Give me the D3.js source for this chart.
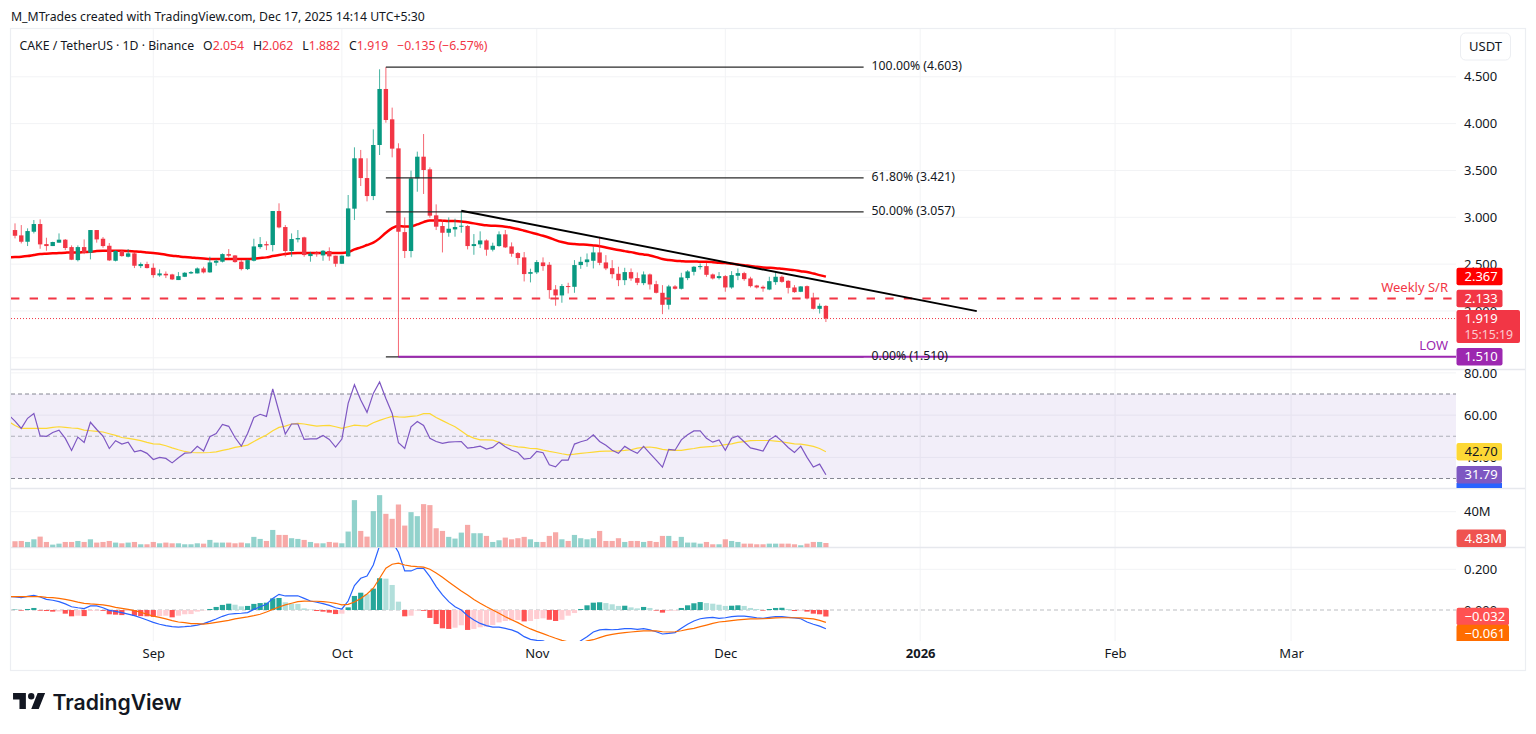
<!DOCTYPE html>
<html>
<head>
<meta charset="utf-8">
<title>CAKE / TetherUS</title>
<script src="https://cdn.jsdelivr.net/npm/d3@7"></script>
<style>
  html, body { margin: 0; padding: 0; background: #fff; overflow: hidden; }
  text { font-family: "Noto Sans", sans-serif; font-size: 13px; fill: #131722; }
  .small { font-size: 12.25px; }
  .axis text { fill: #131722; font-size: 13px; }
  .axis .domain, .axis line { display: none; }
</style>
</head>
<body>
<div id="chart"></div>
<script>
// daily candles, first one is 10 Aug 2025
var opens = [
  2.864,2.807,2.739,2.846,2.928,2.714,2.693,2.729,2.761,2.682,
  2.543,2.682,2.622,2.864,2.771,2.696,2.536,2.640,2.579,2.615,
  2.479,2.501,2.461,2.380,2.397,2.390,2.330,2.365,2.401,2.401,
  2.454,2.412,2.515,2.526,2.607,2.593,2.526,2.447,2.536,2.682,
  2.714,2.704,3.067,2.896,2.640,2.764,2.786,2.586,2.622,2.593,
  2.640,2.590,2.504,2.583,3.092,3.630,3.419,3.227,3.772,4.370,
  4.046,3.736,2.842,2.640,3.416,3.647,3.512,3.021,2.907,2.835,
  2.871,2.900,2.907,2.693,2.711,2.753,2.654,2.693,2.818,2.689,
  2.618,2.572,2.397,2.412,2.518,2.493,2.230,2.166,2.266,2.258,
  2.490,2.521,2.536,2.625,2.518,2.457,2.397,2.329,2.415,2.351,
  2.297,2.390,2.286,2.194,2.066,2.262,2.237,2.351,2.418,2.468,
  2.479,2.390,2.351,2.372,2.251,2.376,2.404,2.347,2.272,2.258,
  2.229,2.308,2.365,2.322,2.251,2.205,2.265,2.133,2.023,2.054
];
var highs = [
  2.935,2.917,2.882,2.971,2.978,2.782,2.739,2.828,2.768,2.700,
  2.700,2.764,2.864,2.864,2.789,2.725,2.650,2.650,2.661,2.625,
  2.518,2.526,2.508,2.444,2.422,2.397,2.415,2.415,2.426,2.465,
  2.472,2.579,2.554,2.615,2.661,2.597,2.543,2.551,2.771,2.789,
  2.743,3.067,3.149,2.917,2.828,2.864,2.793,2.632,2.640,2.650,
  2.679,2.590,2.593,3.238,3.747,3.719,3.630,3.939,4.580,4.603,
  4.171,3.790,2.999,3.498,3.701,3.889,3.533,3.138,2.971,2.999,
  2.985,3.070,2.917,2.821,2.850,2.764,2.729,2.850,2.864,2.732,
  2.629,2.629,2.451,2.543,2.572,2.522,2.276,2.287,2.301,2.543,
  2.578,2.614,2.685,2.792,2.596,2.543,2.472,2.461,2.454,2.411,
  2.422,2.400,2.322,2.276,2.279,2.276,2.408,2.436,2.479,2.507,
  2.514,2.400,2.415,2.383,2.425,2.454,2.418,2.365,2.279,2.272,
  2.365,2.415,2.379,2.329,2.276,2.265,2.272,2.194,2.080,2.062
];
var lows = [
  2.775,2.721,2.693,2.828,2.664,2.643,2.693,2.729,2.650,2.543,
  2.529,2.607,2.551,2.729,2.675,2.533,2.529,2.579,2.572,2.458,
  2.458,2.454,2.355,2.365,2.351,2.330,2.330,2.362,2.394,2.401,
  2.401,2.408,2.483,2.518,2.572,2.515,2.433,2.437,2.529,2.664,
  2.650,2.636,2.882,2.579,2.579,2.732,2.579,2.526,2.579,2.536,
  2.536,2.472,2.501,2.579,2.971,3.334,3.170,3.184,3.665,4.010,
  3.640,1.510,2.565,2.572,3.273,3.249,2.996,2.864,2.625,2.793,
  2.793,2.835,2.657,2.600,2.672,2.590,2.636,2.686,2.672,2.579,
  2.493,2.315,2.305,2.394,2.429,2.130,2.056,2.088,2.187,2.194,
  2.450,2.472,2.454,2.489,2.436,2.347,2.265,2.276,2.322,2.276,
  2.276,2.229,2.187,1.966,2.016,2.229,2.229,2.329,2.379,2.443,
  2.365,2.336,2.336,2.205,2.237,2.329,2.322,2.251,2.240,2.205,
  2.222,2.279,2.301,2.187,2.194,2.201,2.123,2.016,1.973,1.882
];
var closes = [
  2.803,2.739,2.853,2.928,2.711,2.693,2.736,2.761,2.672,2.547,
  2.682,2.622,2.864,2.764,2.693,2.540,2.640,2.586,2.615,2.483,
  2.501,2.458,2.383,2.401,2.380,2.337,2.372,2.408,2.415,2.454,
  2.412,2.518,2.536,2.607,2.590,2.522,2.447,2.543,2.689,2.714,
  2.700,3.067,2.892,2.640,2.768,2.778,2.597,2.611,2.607,2.643,
  2.583,2.504,2.590,3.095,3.630,3.419,3.227,3.772,4.370,4.039,
  3.733,2.846,2.640,3.416,3.647,3.505,3.017,2.900,2.835,2.878,
  2.896,2.910,2.693,2.714,2.753,2.654,2.696,2.818,2.679,2.611,
  2.565,2.394,2.415,2.522,2.479,2.223,2.166,2.266,2.258,2.490,
  2.525,2.550,2.625,2.514,2.454,2.393,2.329,2.415,2.347,2.301,
  2.390,2.283,2.194,2.066,2.262,2.237,2.358,2.422,2.472,2.479,
  2.386,2.347,2.372,2.251,2.383,2.404,2.340,2.265,2.251,2.240,
  2.318,2.365,2.311,2.247,2.201,2.262,2.133,2.023,2.055,1.919
];
var volumes = [
  6.8,7.1,6.0,9.0,12.0,6.0,3.0,4.1,6.0,6.0,
  7.1,6.0,9.0,5.3,6.0,7.1,5.3,4.5,5.3,6.0,
  3.4,3.4,6.0,4.5,5.3,4.5,4.5,3.4,3.4,4.5,
  4.1,8.3,5.3,5.3,5.3,4.5,5.3,4.5,11.7,9.4,
  7.1,19.5,13.9,13.9,10.2,9.4,8.3,6.0,4.5,4.5,
  6.0,5.3,4.5,17.7,53.0,18.4,12.0,40.6,58.6,37.6,
  32.0,48.1,24.4,39.5,35.0,48.5,47.4,21.4,18.4,11.7,
  9.8,16.5,25.2,15.8,15.8,12.8,6.0,7.9,10.9,9.0,
  10.2,11.7,9.0,6.0,6.0,12.8,16.9,9.0,7.1,13.9,
  10.2,9.0,10.2,18.4,7.1,7.1,10.2,6.0,7.1,7.1,
  6.0,7.1,6.0,12.8,12.8,7.1,11.7,5.3,5.3,4.1,
  6.0,3.4,3.4,9.0,7.1,6.0,4.1,4.1,3.4,3.4,
  4.1,4.1,4.1,4.1,3.4,2.3,4.1,6.0,6.0,4.83
];
var macdHist = [
  .002,-.003,.005,.010,-.003,-.005,-.008,-.007,-.018,-.031,
  -.028,-.030,-.005,-.003,-.004,-.021,-.023,-.025,-.005,-.028,
  -.030,-.031,-.034,-.030,-.028,-.036,-.028,-.021,-.020,-.008,
  -.002,.005,.015,.025,.031,.026,.018,.020,.030,.034,
  .036,.057,.059,.038,.031,.030,.008,.002,-.005,-.008,
  -.013,-.020,-.018,.013,.069,.085,.077,.105,.156,.154,
  .123,.041,-.031,-.028,-.003,-.004,-.039,-.069,-.090,-.093,
  -.087,-.075,-.098,-.093,-.085,-.082,-.074,-.061,-.054,-.052,
  -.049,-.056,-.054,-.044,-.041,-.048,-.054,-.048,-.028,-.015,
  .005,.023,.036,.038,.034,.028,.020,.021,.013,.008,
  .015,.010,-.003,-.013,-.005,-.003,.010,.023,.033,.039,
  .034,.031,.026,.020,.021,.023,.020,.010,.005,-.003,
  .005,.010,.011,.005,-.005,-.003,-.008,-.018,-.021,-.032
];

// the line series start one day earlier, that point is cut off by the pane edge
var emaLine = [2.572,
  2.575,2.579,2.586,2.597,2.607,2.611,2.615,2.618,2.622,2.625,
  2.625,2.629,2.632,2.640,2.643,2.643,2.643,2.643,2.640,2.636,
  2.632,2.625,2.618,2.611,2.600,2.590,2.583,2.575,2.572,2.565,
  2.561,2.554,2.554,2.554,2.554,2.554,2.554,2.554,2.558,2.565,
  2.572,2.586,2.597,2.607,2.615,2.618,2.618,2.618,2.618,2.618,
  2.618,2.618,2.618,2.629,2.657,2.679,2.704,2.729,2.775,2.835,
  2.885,2.907,2.903,2.903,2.924,2.949,2.967,2.967,2.964,2.960,
  2.960,2.956,2.946,2.935,2.924,2.914,2.910,2.907,2.900,2.889,
  2.875,2.857,2.839,2.821,2.803,2.782,2.757,2.736,2.721,2.714,
  2.710,2.707,2.700,2.692,2.678,2.664,2.650,2.639,2.628,2.614,
  2.603,2.593,2.575,2.554,2.543,2.536,2.532,2.529,2.529,2.525,
  2.525,2.521,2.514,2.511,2.504,2.497,2.489,2.479,2.472,2.464,
  2.461,2.457,2.450,2.443,2.436,2.425,2.415,2.400,2.383,2.367
];
var rsiLine = [60.0,
  57.2,53.7,58.5,60.8,50.2,49.9,51.8,52.9,49.0,43.3,
  49.6,47.1,56.6,53.2,50.1,44.2,47.9,46.3,47.2,42.6,
  43.3,41.9,39.0,40.0,39.5,37.4,39.8,42.0,42.2,45.2,
  43.0,49.8,51.3,55.6,54.7,49.4,45.3,51.3,58.9,60.4,
  59.4,72.4,61.6,51.0,55.8,55.8,48.5,48.8,48.8,50.4,
  48.5,44.9,48.7,65.6,74.4,67.2,61.3,70.3,75.7,67.9,
  60.8,46.9,44.2,54.5,57.0,55.1,49.0,47.5,46.6,47.2,
  47.4,47.5,44.4,44.7,45.3,43.9,44.7,47.2,45.0,43.4,
  42.3,39.2,39.6,42.8,42.2,36.5,35.5,38.7,38.7,46.3,
  47.4,48.2,50.7,47.5,45.7,43.4,41.9,45.2,43.4,41.9,
  45.2,41.9,38.7,35.4,43.8,43.4,48.3,50.7,52.5,52.6,
  49.0,47.2,48.2,43.4,49.1,50.1,47.4,44.5,43.8,43.0,
  48.3,50.2,47.7,44.7,42.3,45.3,40.0,35.4,36.8,31.79
];
var rsiAverage = [56.9,
  55.1,53.7,53.7,53.7,53.7,53.7,54.2,54.5,54.2,53.9,
  53.7,52.9,52.6,52.3,52.0,51.2,50.4,49.4,49.0,48.5,
  47.9,47.1,46.4,46.3,45.5,44.5,43.6,42.8,42.3,42.2,
  42.2,42.3,42.6,43.3,43.9,44.7,45.2,45.8,47.5,49.1,
  50.6,52.6,54.2,54.8,55.8,56.1,55.8,55.3,54.8,55.0,
  55.1,54.5,53.7,54.5,55.3,55.0,54.8,56.4,57.5,58.5,
  59.4,59.2,59.1,59.4,59.7,60.7,60.7,58.9,57.4,55.9,
  54.5,52.5,50.4,49.1,48.3,48.3,48.2,47.1,46.1,45.5,
  45.0,44.7,44.2,44.1,43.4,42.8,42.3,41.7,41.2,41.5,
  41.9,42.2,42.5,42.8,43.0,43.0,43.1,43.3,43.6,44.4,
  44.7,44.9,44.5,43.8,43.4,43.3,43.3,43.8,44.2,44.7,
  45.0,45.2,45.5,46.0,46.4,47.1,47.5,47.9,48.0,48.0,
  48.0,47.7,47.4,46.9,46.4,46.3,45.8,45.2,44.2,42.7
];
var macdLine = [.066,
  .064,.061,.067,.072,.064,.052,.048,.041,.030,.016,
  .011,.007,.020,.020,.011,-.002,-.007,-.013,-.020,-.028,
  -.038,-.049,-.061,-.070,-.077,-.082,-.084,-.082,-.079,-.074,
  -.067,-.056,-.044,-.031,-.021,-.018,-.016,-.013,.003,.016,
  .028,.057,.077,.069,.069,.070,.057,.044,.038,.031,
  .023,.011,.005,.044,.120,.156,.167,.221,.316,.369,
  .336,.284,.192,.192,.205,.205,.164,.115,.074,.041,
  .016,0,-.028,-.049,-.066,-.077,-.084,-.084,-.090,-.098,
  -.110,-.131,-.144,-.149,-.151,-.166,-.180,-.189,-.189,-.175,
  -.151,-.131,-.108,-.098,-.095,-.097,-.095,-.092,-.092,-.095,
  -.092,-.098,-.107,-.118,-.115,-.111,-.090,-.070,-.054,-.043,
  -.039,-.036,-.041,-.038,-.033,-.030,-.030,-.034,-.038,-.041,
  -.036,-.033,-.033,-.036,-.039,-.043,-.059,-.070,-.079,-.092
];
var macdSignal = [.066,
  .066,.066,.066,.066,.066,.062,.061,.057,.052,.046,
  .039,.033,.030,.028,.025,.020,.013,.008,.003,-.003,
  -.011,-.021,-.030,-.036,-.044,-.052,-.059,-.062,-.067,-.067,
  -.069,-.066,-.061,-.056,-.051,-.044,-.039,-.034,-.028,-.021,
  -.010,.003,.015,.025,.033,.041,.044,.043,.043,.041,
  .038,.033,.025,.028,.039,.056,.079,.107,.156,.205,
  .225,.230,.221,.216,.213,.211,.200,.182,.161,.138,
  .115,.093,.074,.052,.033,.016,0,-.016,-.033,-.048,
  -.062,-.079,-.093,-.105,-.116,-.128,-.139,-.149,-.157,-.166,
  -.162,-.152,-.146,-.136,-.126,-.120,-.115,-.111,-.108,-.105,
  -.103,-.103,-.103,-.107,-.108,-.107,-.102,-.095,-.090,-.082,
  -.074,-.066,-.059,-.056,-.052,-.049,-.046,-.044,-.044,-.043,
  -.041,-.039,-.038,-.038,-.038,-.039,-.041,-.044,-.051,-.061
];

var fibLevels = [4.603, 3.421, 3.057, 1.510];
var fibLabels = ["100.00% (4.603)", "61.80% (3.421)", "50.00% (3.057)", "0.00% (1.510)"];
var priceTicks = [4.5, 4.0, 3.5, 3.0, 2.5, 2.0, 1.5];
var rsiTicks = [80, 60, 40];
var volumeTicks = [40];
var macdTicks = [0.2, 0];
var monthTicks = ["2025-09-01", "2025-10-01", "2025-11-01", "2025-12-01", "2026-01-01", "2026-02-01", "2026-03-01"];
var monthLabels = ["Sep", "Oct", "Nov", "Dec", "2026", "Feb", "Mar"];
var trendFrom = { day: 71, price: 3.07 };
var trendTo = { day: 153, price: 1.998 };
var fibFromDay = 59, fibToDay = 135, lowFromDay = 61;
var supportLevel = 2.133, lastPrice = 1.919, lowLevel = 1.510;

var GREEN = "#089981", RED = "#f23645";
var width = 1536, height = 734;
var plotLeft = 11, plotRight = 1456;

var svg = d3.select("#chart").append("svg")
    .attr("width", width)
    .attr("height", height)
    .style("display", "block");

var dayScale = d3.scaleUtc()
    .domain([new Date(Date.UTC(2025, 7, 10)), new Date(Date.UTC(2025, 11, 17))])
    .range([15, 825.9]);

function xDay(i) {
    return dayScale(new Date(Date.UTC(2025, 7, 10 + i)));
}

var yPrice = d3.scaleLinear().domain([1.5, 4.5]).range([357.8, 76.8]);
var yRsi = d3.scaleLinear().domain([30, 70]).range([478.5, 394]);
var yVol = d3.scaleLinear().domain([0, 40]).range([547.3, 511.7]);
var yMacd = d3.scaleLinear().domain([0, 0.2]).range([610, 569.3]);

var panes = [
    { id: "clip-price", top: 29, bottom: 369 },
    { id: "clip-rsi", top: 370, bottom: 488 },
    { id: "clip-vol", top: 489, bottom: 547.5 },
    { id: "clip-macd", top: 548, bottom: 641 }
];

var defs = svg.append("defs");
panes.forEach(function(p) {
    defs.append("clipPath").attr("id", p.id).append("rect")
        .attr("x", plotLeft).attr("y", p.top)
        .attr("width", plotRight - plotLeft).attr("height", p.bottom - p.top);
});

// outer frame
svg.append("rect")
    .attr("x", 10.5).attr("y", 28.5)
    .attr("width", 1515).attr("height", 642)
    .attr("fill", "#fff").attr("stroke", "#eceef2").attr("stroke-width", 1.2);

// grid
var gridColor = "#f2f3f5";
var grid = svg.append("g");
monthTicks.forEach(function(m) {
    var px = dayScale(new Date(m + "T00:00:00Z"));
    grid.append("line").attr("x1", px).attr("x2", px).attr("y1", 29).attr("y2", 641)
        .attr("stroke", gridColor).attr("stroke-width", 1);
});
function hGrid(ticks, scale) {
    ticks.forEach(function(t) {
        grid.append("line").attr("x1", plotLeft).attr("x2", plotRight)
            .attr("y1", scale(t)).attr("y2", scale(t))
            .attr("stroke", gridColor).attr("stroke-width", 1);
    });
}
hGrid(priceTicks, yPrice);
hGrid(rsiTicks, yRsi);
hGrid(volumeTicks, yVol);
hGrid([0.2], yMacd);

// pane separators
[369.5, 488.5, 547.5].forEach(function(y) {
    svg.append("line").attr("x1", 11).attr("x2", 1525).attr("y1", y).attr("y2", y)
        .attr("stroke", "#e6e8ed").attr("stroke-width", 1.3);
});

// price pane
var pricePane = svg.append("g").attr("clip-path", "url(#clip-price)");

pricePane.append("path")
    .attr("d", d3.line().x(function(d, i) { return xDay(i - 1); }).y(function(d) { return yPrice(d); })
        .curve(d3.curveMonotoneX)(emaLine))
    .attr("fill", "none").attr("stroke", "#ff0000").attr("stroke-width", 2.5);

var days = d3.range(opens.length);
function candleColor(i) { return closes[i] >= opens[i] ? GREEN : RED; }

pricePane.append("g").selectAll("line").data(days).enter().append("line")
    .attr("x1", function(i) { return xDay(i); })
    .attr("x2", function(i) { return xDay(i); })
    .attr("y1", function(i) { return yPrice(highs[i]); })
    .attr("y2", function(i) { return yPrice(lows[i]); })
    .attr("stroke", candleColor)
    .attr("stroke-width", 1)
    .attr("stroke-opacity", 0.75);

pricePane.append("g").selectAll("rect").data(days).enter().append("rect")
    .attr("x", function(i) { return xDay(i) - 2.2; })
    .attr("width", 4.4)
    .attr("y", function(i) { return yPrice(Math.max(opens[i], closes[i])); })
    .attr("height", function(i) { return Math.max(1, Math.abs(yPrice(opens[i]) - yPrice(closes[i]))); })
    .attr("fill", candleColor);

// fib levels
fibLevels.forEach(function(level, k) {
    pricePane.append("line")
        .attr("x1", xDay(fibFromDay)).attr("x2", xDay(fibToDay))
        .attr("y1", yPrice(level)).attr("y2", yPrice(level))
        .attr("stroke", "#2a2a2a").attr("stroke-width", 1.2);
    svg.append("text").attr("class", "small")
        .attr("x", xDay(fibToDay) + 8).attr("y", yPrice(level) + 3)
        .text(fibLabels[k]);
});

// low line, weekly S/R, last price
pricePane.append("line")
    .attr("x1", xDay(lowFromDay)).attr("x2", plotRight)
    .attr("y1", yPrice(lowLevel)).attr("y2", yPrice(lowLevel))
    .attr("stroke", "#9c27b0").attr("stroke-width", 2);
pricePane.append("line")
    .attr("x1", plotLeft).attr("x2", plotRight)
    .attr("y1", yPrice(supportLevel)).attr("y2", yPrice(supportLevel))
    .attr("stroke", RED).attr("stroke-width", 2).attr("stroke-dasharray", "8.4 10.2");
pricePane.append("line")
    .attr("x1", plotLeft).attr("x2", plotRight)
    .attr("y1", yPrice(lastPrice)).attr("y2", yPrice(lastPrice))
    .attr("stroke", RED).attr("stroke-width", 1).attr("stroke-dasharray", "1 2");

// trend line
pricePane.append("line")
    .attr("x1", xDay(trendFrom.day)).attr("y1", yPrice(trendFrom.price))
    .attr("x2", xDay(trendTo.day)).attr("y2", yPrice(trendTo.price))
    .attr("stroke", "#000").attr("stroke-width", 1.9);

svg.append("text").attr("x", 1448).attr("y", yPrice(supportLevel) - 7)
    .attr("text-anchor", "end").style("fill", RED).text("Weekly S/R");
svg.append("text").attr("x", 1448).attr("y", yPrice(lowLevel) - 7)
    .attr("text-anchor", "end").style("fill", "#9c27b0").text("LOW");

// RSI pane
var rsiPane = svg.append("g").attr("clip-path", "url(#clip-rsi)");
rsiPane.append("rect")
    .attr("x", plotLeft).attr("width", plotRight - plotLeft)
    .attr("y", yRsi(70)).attr("height", yRsi(30) - yRsi(70))
    .attr("fill", "#7e57c2").attr("fill-opacity", 0.1);
[70, 50, 30].forEach(function(level) {
    rsiPane.append("line")
        .attr("x1", plotLeft).attr("x2", plotRight)
        .attr("y1", yRsi(level)).attr("y2", yRsi(level))
        .attr("stroke", "#787b86").attr("stroke-width", 1)
        .attr("stroke-opacity", level == 50 ? 0.55 : 0.9)
        .attr("stroke-dasharray", "4 3");
});
var rsiPath = d3.line().x(function(d, i) { return xDay(i - 1); }).y(function(d) { return yRsi(d); });
rsiPane.append("path").attr("d", rsiPath(rsiAverage))
    .attr("fill", "none").attr("stroke", "#fdd835").attr("stroke-width", 1.2);
rsiPane.append("path").attr("d", rsiPath(rsiLine))
    .attr("fill", "none").attr("stroke", "#7e57c2").attr("stroke-width", 1.2);

// volume pane
svg.append("g").attr("clip-path", "url(#clip-vol)")
    .selectAll("rect").data(days).enter().append("rect")
    .attr("x", function(i) { return xDay(i) - 2.6; })
    .attr("width", 5.2)
    .attr("y", function(i) { return yVol(volumes[i]); })
    .attr("height", function(i) { return yVol(0) - yVol(volumes[i]); })
    .attr("fill", function(i) { return closes[i] >= opens[i] ? "#26a69a" : "#ef5350"; })
    .attr("fill-opacity", 0.5);

// MACD pane
var macdPane = svg.append("g").attr("clip-path", "url(#clip-macd)");
macdPane.append("line")
    .attr("x1", plotLeft).attr("x2", plotRight)
    .attr("y1", yMacd(0)).attr("y2", yMacd(0))
    .attr("stroke", "#787b86").attr("stroke-opacity", 0.5).attr("stroke-dasharray", "4 3");

function histColor(i) {
    var v = macdHist[i], prev = i > 0 ? macdHist[i - 1] : 0;
    if (v >= 0) return v > prev ? "#26a69a" : "#b2dfdb";
    return v < prev ? "#ff5252" : "#ffcdd2";
}
macdPane.append("g").selectAll("rect").data(days).enter().append("rect")
    .attr("x", function(i) { return xDay(i) - 2.6; })
    .attr("width", 5.2)
    .attr("y", function(i) { return Math.min(yMacd(0), yMacd(macdHist[i])); })
    .attr("height", function(i) { return Math.abs(yMacd(macdHist[i]) - yMacd(0)); })
    .attr("fill", histColor);

var macdPath = d3.line().x(function(d, i) { return xDay(i - 1); }).y(function(d) { return yMacd(d); });
macdPane.append("path").attr("d", macdPath(macdLine))
    .attr("fill", "none").attr("stroke", "#2962ff").attr("stroke-width", 1.2);
macdPane.append("path").attr("d", macdPath(macdSignal))
    .attr("fill", "none").attr("stroke", "#ff6d00").attr("stroke-width", 1.2);

// axes
function rightAxis(scale, ticks, fmt) {
    svg.append("g").attr("class", "axis")
        .attr("transform", "translate(1456,0)")
        .call(d3.axisRight(scale).tickValues(ticks).tickSize(0).tickPadding(8).tickFormat(fmt));
}
rightAxis(yPrice, priceTicks, d3.format(".3f"));
rightAxis(yRsi, rsiTicks, d3.format(".2f"));
rightAxis(yVol, volumeTicks, function(d) { return d + "M"; });
rightAxis(yMacd, macdTicks, d3.format(".3f"));

var timeAxis = svg.append("g").attr("class", "axis")
    .attr("transform", "translate(0,641)")
    .call(d3.axisBottom(dayScale)
        .tickValues(monthTicks.map(function(m) { return new Date(m + "T00:00:00Z"); }))
        .tickSize(0).tickPadding(8)
        .tickFormat(function(d, i) { return monthLabels[i]; }));
timeAxis.selectAll("text").style("font-weight", function(d, i) { return monthLabels[i] == "2026" ? "700" : "400"; });

// price tags on the right
function tag(cy, label, bg, fg, w, h) {
    svg.append("rect").attr("x", 1456.5).attr("y", cy - h / 2)
        .attr("width", w).attr("height", h).attr("rx", 2).attr("fill", bg);
    svg.append("text").attr("x", 1456.5 + 8).attr("y", cy + 4.5)
        .style("fill", fg).text(label);
}
tag(yPrice(2.367), "2.367", "#ff0000", "#fff", 46, 17.5);
tag(yPrice(supportLevel), "2.133", RED, "#fff", 46, 17.5);
svg.append("rect").attr("x", 1456.5).attr("y", yPrice(lastPrice) - 8.5)
    .attr("width", 63.5).attr("height", 33).attr("rx", 2).attr("fill", RED);
svg.append("text").attr("x", 1464.5).attr("y", yPrice(lastPrice) + 4.5)
    .style("fill", "#fff").text("1.919");
svg.append("text").attr("class", "small").attr("x", 1464.5).attr("y", yPrice(lastPrice) + 20)
    .style("fill", "#fff").style("fill-opacity", 0.75).text("15:15:19");
tag(yPrice(lowLevel), "1.510", "#9c27b0", "#fff", 46, 17.5);

svg.append("rect").attr("x", 1456.5).attr("y", 483).attr("width", 45.5).attr("height", 5).attr("fill", "#2962ff");
tag(yRsi(42.7), "42.70", "#fdd835", "#131722", 45.5, 17.5);
tag(yRsi(31.79), "31.79", "#7e57c2", "#fff", 45.5, 17.5);
tag(538.2, "4.83M", "#ef5350", "#fff", 49.5, 17.5);
tag(yMacd(-0.032), "\u22120.032", "#ff5252", "#fff", 52.5, 17.5);
tag(yMacd(-0.032) + 17, "\u22120.061", "#ff6d00", "#fff", 52.5, 17.5);
svg.append("rect").attr("x", 1456).attr("y", 641).attr("width", 60).attr("height", 6).attr("fill", "#fff");

// header texts
svg.append("text").attr("class", "small").attr("x", 11).attr("y", 20.5)
    .text("M_MTrades created with TradingView.com, Dec 17, 2025 14:14 UTC+5:30");

var legend = svg.append("text").attr("class", "small").attr("x", 19.5).attr("y", 50);
legend.append("tspan").text("CAKE / TetherUS \u00b7 1D \u00b7 Binance");
[["O", "2.054"], ["H", "2.062"], ["L", "1.882"], ["C", "1.919"]].forEach(function(item) {
    legend.append("tspan").attr("dx", 9).text(item[0]);
    legend.append("tspan").style("fill", RED).text(item[1]);
});
legend.append("tspan").attr("dx", 9).style("fill", RED).text("\u22120.135 (\u22126.57%)");

// currency button
svg.append("rect").attr("x", 1460.5).attr("y", 33).attr("width", 50).attr("height", 27).attr("rx", 5)
    .attr("fill", "#fff").attr("stroke", "#eceef2");
svg.append("text").attr("x", 1485.5).attr("y", 51).attr("text-anchor", "middle").text("USDT");

// logo
svg.append("path")
    .attr("transform", "translate(10.9,686.6) scale(1.07)")
    .attr("d", "M14 6H2v6h6v9h6V6Zm12 15h-7l6-15h7l-6 15Zm-7-9a3 3 0 1 0 0-6 3 3 0 0 0 0 6Z")
    .attr("fill", "#131722");
svg.append("text").attr("x", 52.5).attr("y", 709.5)
    .style("font-family", "Inter, sans-serif").style("font-size", "21.2px").style("font-weight", "600")
    .text("TradingView");
</script>
</body>
</html>
